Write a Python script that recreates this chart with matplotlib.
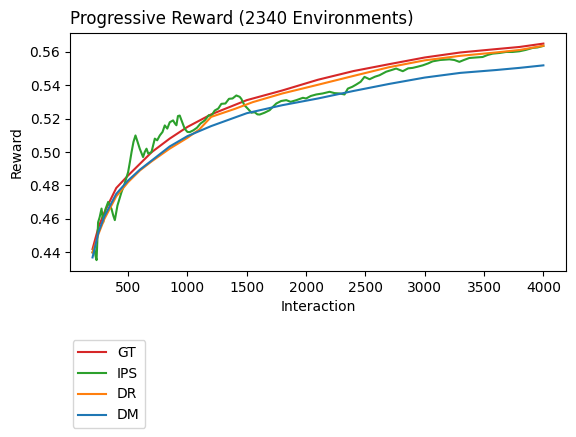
"""Progressive reward curves for the four estimators."""

import matplotlib
matplotlib.use("Agg")
import matplotlib.pyplot as plt

# GT
gt_x = [200, 250, 300, 400, 500, 600, 700, 850, 1000, 1200, 1500, 1800,
        2100, 2400, 2700, 3000, 3300, 3600, 3800, 4000]
gt_y = [0.442, 0.455, 0.464, 0.4785, 0.486, 0.493, 0.500, 0.508, 0.515, 0.5225,
        0.531, 0.5368, 0.5432, 0.5484, 0.5525, 0.5565, 0.5595, 0.5615, 0.5628, 0.5648]

# DR
dr_x = [200, 250, 300, 400, 500, 600, 700, 850, 1000, 1100, 1200, 1400, 1550,
        1800, 2100, 2400, 2700, 3000, 3300, 3600, 3800, 4000]
dr_y = [0.440, 0.451, 0.460, 0.4735, 0.482, 0.489, 0.4945, 0.502, 0.5085, 0.5135,
        0.521, 0.5258, 0.5298, 0.535, 0.5402, 0.5455, 0.5507, 0.5548, 0.5575,
        0.5595, 0.561, 0.5635]

# DM
dm_x = [200, 250, 300, 400, 500, 600, 700, 850, 1000, 1200, 1500, 1800,
        2100, 2400, 2700, 3000, 3300, 3600, 3800, 4000]
dm_y = [0.437, 0.452, 0.4615, 0.475, 0.483, 0.4895, 0.495, 0.5033, 0.5095, 0.5155,
        0.5232, 0.528, 0.532, 0.5365, 0.5407, 0.5445, 0.5473, 0.549, 0.5503, 0.5518]

# IPS (noisy)
ips_x = [200, 215, 225, 234, 240, 247, 260, 276, 290, 310, 332, 345, 360, 375, 388,
         410, 444, 470, 500, 515, 529, 545, 562, 580, 598, 626, 640, 655, 670, 697,
         725, 745, 767, 790, 809, 830, 851, 879, 895, 907, 920, 935, 955, 977, 1000,
         1019, 1050, 1080, 1110, 1146, 1180, 1200, 1230, 1260, 1286, 1320, 1350, 1380,
         1412, 1440, 1454, 1480, 1510, 1540, 1566, 1590, 1609, 1650, 1693, 1720, 1749,
         1790, 1833, 1870, 1918, 1973, 2000, 2040, 2086, 2140, 2198, 2240, 2282, 2324,
         2352, 2390, 2422, 2460, 2492, 2535, 2580, 2619, 2675, 2720, 2759, 2815, 2860,
         2899, 2940, 2983, 3030, 3067, 3130, 3208, 3250, 3292, 3330, 3376, 3430, 3488,
         3530, 3572, 3630, 3685, 3740, 3797, 3850, 3909, 3950, 4000]
ips_y = [0.440, 0.443, 0.438, 0.4354, 0.446, 0.458, 0.461, 0.4662, 0.458, 0.466,
         0.4702, 0.468, 0.466, 0.462, 0.4593, 0.468, 0.476, 0.481, 0.488, 0.494,
         0.500, 0.506, 0.5099, 0.506, 0.502, 0.497, 0.500, 0.502, 0.499, 0.500,
         0.508, 0.507, 0.5099, 0.512, 0.5159, 0.514, 0.5178, 0.5189, 0.517, 0.516,
         0.5215, 0.5218, 0.518, 0.5139, 0.512, 0.5119, 0.513, 0.5145, 0.517, 0.5189,
         0.522, 0.5215, 0.5248, 0.526, 0.5288, 0.529, 0.5318, 0.532, 0.5338, 0.533,
         0.5318, 0.528, 0.5258, 0.5235, 0.5238, 0.5225, 0.5224, 0.5235, 0.525, 0.527,
         0.529, 0.5305, 0.531, 0.530, 0.531, 0.5324, 0.532, 0.5335, 0.5344, 0.535,
         0.536, 0.5352, 0.535, 0.5344, 0.5379, 0.539, 0.5403, 0.542, 0.5449, 0.5435,
         0.545, 0.5459, 0.548, 0.549, 0.5499, 0.5483, 0.550, 0.5503, 0.551, 0.5518,
         0.553, 0.5542, 0.555, 0.5554, 0.555, 0.5539, 0.555, 0.5562, 0.5565, 0.5568,
         0.558, 0.5588, 0.5592, 0.5598, 0.5598, 0.5602, 0.561, 0.5622, 0.5625, 0.5634]

fig = plt.figure(figsize=(5.76, 4.37), dpi=100)
ax = fig.add_axes([0.1215, 0.38, 0.861, 0.545])

ax.plot(gt_x, gt_y, color="tab:red", label="GT")
ax.plot(ips_x, ips_y, color="tab:green", label="IPS")
ax.plot(dr_x, dr_y, color="tab:orange", label="DR")
ax.plot(dm_x, dm_y, color="tab:blue", label="DM")

ax.set_title("Progressive Reward (2340 Environments)", loc="left", fontsize=12)
ax.set_xlabel("Interaction")
ax.set_ylabel("Reward")
ax.set_xticks([500, 1000, 1500, 2000, 2500, 3000, 3500, 4000])
ax.set_yticks([0.44, 0.46, 0.48, 0.50, 0.52, 0.54, 0.56])

ax.legend(loc="upper left", bbox_to_anchor=(0.0054, -0.29), borderaxespad=0)

fig.savefig("out.png", dpi=100)
